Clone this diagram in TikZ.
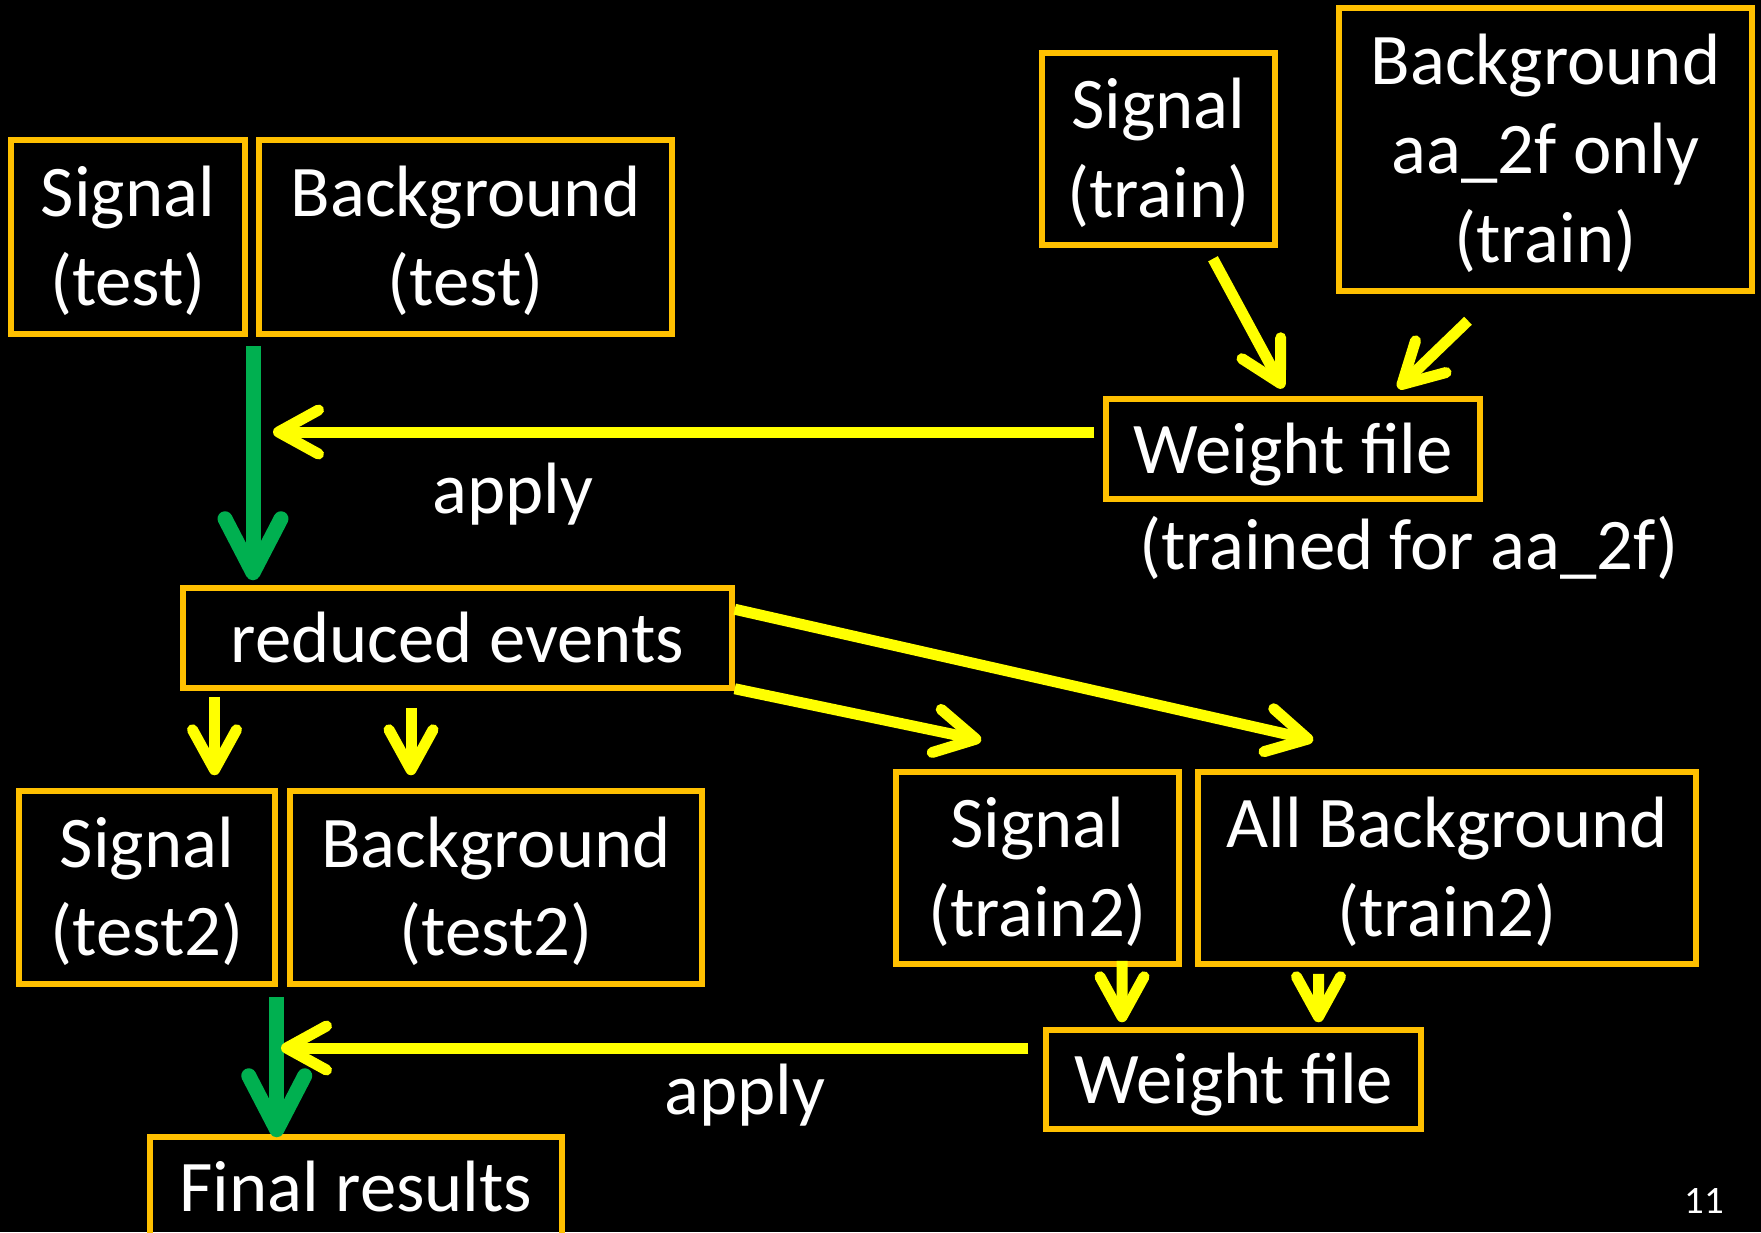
\documentclass[tikz,border=0pt]{standalone}
\usepackage{fontspec}
\setmainfont{Carlito}
\usetikzlibrary{arrows.meta,calc}
\definecolor{boxc}{HTML}{FFC000}
\definecolor{yel}{HTML}{FFFF00}
\definecolor{grn}{HTML}{00B050}
\newcommand\bigfnt{\fontsize{73}{89}\selectfont}
\newcommand\bs{\rule[-14bp]{0pt}{76bp}}
\begin{document}
\begin{tikzpicture}[x=1bp,y=-1bp,
  box/.style={draw=boxc, line width=5.5bp, text=white, align=center, inner sep=0pt, font=\bigfnt},
  lbl/.style={text=white, font=\bigfnt, inner sep=0pt},
  yarr/.style={draw=yel, line width=11bp, -{Straight Barb[round,length=40bp,width=44bp]}},
  garr/.style={draw=grn, line width=15bp, -{Straight Barb[round,length=54bp,width=56bp]}},
]
\fill[black] (0,0) rectangle (1761,1232);
\useasboundingbox (0,0) rectangle (1761,1232);
\clip (0,0) rectangle (1761,1232);

% boxes
\node[box, minimum width=234bp, minimum height=194bp] (sigtest) at (128,237) {\bs Signal\\\bs (test)};
\node[box, minimum width=413bp, minimum height=194bp] (bgtest) at (465.5,237) {\bs Background\\\bs (test)};
\node[box, minimum width=233bp, minimum height=192bp] (sigtrain) at (1158.5,149) {\bs Signal\\\bs (train)};
\node[box, minimum width=413bp, minimum height=283bp] (bgtrain) at (1545.5,149.5) {\bs Background\\\bs aa\_2f only\\\bs (train)};
\node[box, minimum width=374bp, minimum height=100bp] (wf1) at (1293,449) {\bs Weight file};
\node[box, minimum width=549bp, minimum height=100bp] (reduced) at (457.5,638) {\bs reduced events};
\node[box, minimum width=256bp, minimum height=193bp] (sigtest2) at (147,887.5) {\bs Signal\\\bs (test2)};
\node[box, minimum width=412bp, minimum height=193bp] (bgtest2) at (496,887.5) {\bs Background\\\bs (test2)};
\node[box, minimum width=283bp, minimum height=192bp] (sigtrain2) at (1037.5,868) {\bs Signal\\\bs (train2)};
\node[box, minimum width=498bp, minimum height=192bp] (allbg) at (1447,868) {\bs All Background\\\bs (train2)};
\node[box, minimum width=375bp, minimum height=99bp] (wf2) at (1233.5,1079.5) {\bs Weight file};
\node[box, minimum width=412bp, minimum height=100bp] (final) at (356,1187) {\bs Final results};

% labels
\node[lbl, anchor=base] (apply1) at (513,513) {apply};
\node[lbl, anchor=base] (trained) at (1409,569) {(trained for aa\_2f)};
\node[lbl, anchor=base] (apply2) at (745,1114) {apply};
\node[text=white, font=\fontsize{39}{46}\selectfont, anchor=base, inner sep=0pt] (pg) at (1704,1213) {11};

% training arrows
\draw[yarr] ($(sigtrain.south)+(54.5,11)$) -- ($(wf1.north)+(-10,-8)$);
\draw[yarr] ($(bgtrain.south)+(-77.5,27)$) -- ($(wf1.north)+(105,-8)$);

% green arrow 1 and apply 1
\coordinate (g1s) at ($(sigtest.south east)!0.5!(bgtest.south west)+(1,9)$);
\draw[garr] (g1s) -- ($(g1s |- reduced.north)+(0,-5)$);
\coordinate (a1) at (273,432);
\draw[yarr] ($(wf1.west |- a1)+(-9,0)$) -- (a1);

% reduced events outputs
\draw[yarr] ($(reduced.south)+(-243,6)$) -- ($(sigtest2.north)+(67.5,-13)$);
\draw[yarr] ($(reduced.south)+(-46.5,17)$) -- ($(bgtest2.north)+(-85,-13)$);
\draw[yarr] ($(reduced.north east)+(0,24)$) -- ($(allbg.north west)+(118,-29)$);
\draw[yarr] ($(reduced.south east)+(0,-2)$) -- ($(sigtrain2.north west)+(88,-29)$);

% train2 -> weight file 2
\draw[yarr] ($(sigtrain2.south)+(84.5,-6)$) -- ($(wf2.north)+(-111.5,-5)$);
\draw[yarr] ($(allbg.south)+(-128.5,7)$) -- ($(wf2.north)+(85,-5)$);

% green arrow 2 and apply 2
\coordinate (g2s) at ($(sigtest2.south east)+(-1,10)$);
\draw[garr] (g2s) -- ($(g2s |- final.north)+(0,3)$);
\coordinate (a2) at (281,1048);
\draw[yarr] ($(wf2.west |- a2)+(-15,0)$) -- (a2);
\end{tikzpicture}
\end{document}
